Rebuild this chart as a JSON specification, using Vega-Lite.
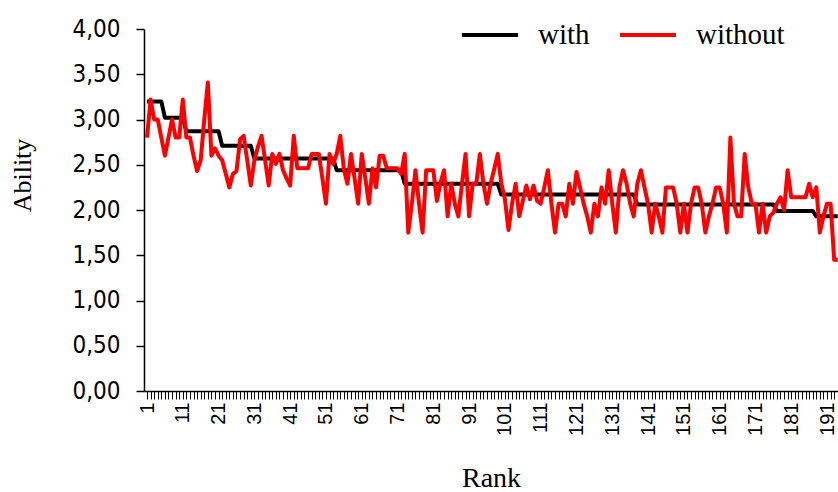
{
"$schema": "https://vega.github.io/schema/vega-lite/v6.json",
"width": 694, "height": 362,
"autosize": {"type": "none"},
"padding": {"left": 144, "top": 29, "right": 0, "bottom": 101},
"background": "white",
"config": {"view": {"stroke": null}, "axisX": {"labelFontSize": 20}},
"data": {"values": [
{"rank":1,"with":3.20,"without":2.80},{"rank":2,"with":3.20,"without":3.22},{"rank":3,"with":3.20,"without":3.00},{"rank":4,"with":3.20,"without":3.00},{"rank":5,"with":3.20,"without":2.80},
{"rank":6,"with":3.02,"without":2.60},{"rank":7,"with":3.02,"without":2.80},{"rank":8,"with":3.02,"without":3.00},{"rank":9,"with":3.02,"without":2.80},{"rank":10,"with":3.02,"without":2.80},
{"rank":11,"with":3.02,"without":3.22},{"rank":12,"with":2.87,"without":2.80},{"rank":13,"with":2.87,"without":2.80},{"rank":14,"with":2.87,"without":2.60},{"rank":15,"with":2.87,"without":2.43},
{"rank":16,"with":2.87,"without":2.55},{"rank":17,"with":2.87,"without":3.00},{"rank":18,"with":2.87,"without":3.41},{"rank":19,"with":2.87,"without":2.60},{"rank":20,"with":2.87,"without":2.68},
{"rank":21,"with":2.87,"without":2.60},{"rank":22,"with":2.71,"without":2.55},{"rank":23,"with":2.71,"without":2.40},{"rank":24,"with":2.71,"without":2.25},{"rank":25,"with":2.71,"without":2.40},
{"rank":26,"with":2.71,"without":2.43},{"rank":27,"with":2.71,"without":2.78},{"rank":28,"with":2.71,"without":2.82},{"rank":29,"with":2.71,"without":2.55},{"rank":30,"with":2.71,"without":2.27},
{"rank":31,"with":2.57,"without":2.55},{"rank":32,"with":2.57,"without":2.70},{"rank":33,"with":2.57,"without":2.82},{"rank":34,"with":2.57,"without":2.55},{"rank":35,"with":2.57,"without":2.27},
{"rank":36,"with":2.57,"without":2.62},{"rank":37,"with":2.57,"without":2.51},{"rank":38,"with":2.57,"without":2.62},{"rank":39,"with":2.57,"without":2.44},{"rank":40,"with":2.57,"without":2.35},
{"rank":41,"with":2.57,"without":2.27},{"rank":42,"with":2.57,"without":2.82},{"rank":43,"with":2.57,"without":2.46},{"rank":44,"with":2.57,"without":2.46},{"rank":45,"with":2.57,"without":2.46},
{"rank":46,"with":2.57,"without":2.46},{"rank":47,"with":2.57,"without":2.62},{"rank":48,"with":2.57,"without":2.62},{"rank":49,"with":2.57,"without":2.62},{"rank":50,"with":2.57,"without":2.35},
{"rank":51,"with":2.57,"without":2.07},{"rank":52,"with":2.57,"without":2.62},{"rank":53,"with":2.57,"without":2.51},{"rank":54,"with":2.44,"without":2.62},{"rank":55,"with":2.44,"without":2.82},
{"rank":56,"with":2.44,"without":2.45},{"rank":57,"with":2.44,"without":2.29},{"rank":58,"with":2.44,"without":2.62},{"rank":59,"with":2.44,"without":2.35},{"rank":60,"with":2.44,"without":2.07},
{"rank":61,"with":2.44,"without":2.62},{"rank":62,"with":2.44,"without":2.35},{"rank":63,"with":2.44,"without":2.07},{"rank":64,"with":2.44,"without":2.46},{"rank":65,"with":2.44,"without":2.25},
{"rank":66,"with":2.44,"without":2.60},{"rank":67,"with":2.44,"without":2.60},{"rank":68,"with":2.44,"without":2.46},{"rank":69,"with":2.44,"without":2.46},{"rank":70,"with":2.44,"without":2.46},
{"rank":71,"with":2.44,"without":2.46},{"rank":72,"with":2.44,"without":2.40},{"rank":73,"with":2.29,"without":2.62},{"rank":74,"with":2.29,"without":1.75},{"rank":75,"with":2.29,"without":2.07},
{"rank":76,"with":2.29,"without":2.44},{"rank":77,"with":2.29,"without":2.07},{"rank":78,"with":2.29,"without":1.75},{"rank":79,"with":2.29,"without":2.44},{"rank":80,"with":2.29,"without":2.44},
{"rank":81,"with":2.29,"without":2.44},{"rank":82,"with":2.29,"without":2.10},{"rank":83,"with":2.29,"without":2.30},{"rank":84,"with":2.29,"without":2.44},{"rank":85,"with":2.29,"without":1.93},
{"rank":86,"with":2.29,"without":2.29},{"rank":87,"with":2.29,"without":2.07},{"rank":88,"with":2.29,"without":1.93},{"rank":89,"with":2.29,"without":2.29},{"rank":90,"with":2.29,"without":2.62},
{"rank":91,"with":2.29,"without":1.93},{"rank":92,"with":2.29,"without":2.29},{"rank":93,"with":2.29,"without":2.29},{"rank":94,"with":2.29,"without":2.62},{"rank":95,"with":2.29,"without":2.29},
{"rank":96,"with":2.29,"without":2.07},{"rank":97,"with":2.29,"without":2.29},{"rank":98,"with":2.29,"without":2.45},{"rank":99,"with":2.29,"without":2.62},{"rank":100,"with":2.17,"without":2.29},
{"rank":101,"with":2.17,"without":2.12},{"rank":102,"with":2.17,"without":1.78},{"rank":103,"with":2.17,"without":2.07},{"rank":104,"with":2.17,"without":2.29},{"rank":105,"with":2.17,"without":1.93},
{"rank":106,"with":2.17,"without":2.10},{"rank":107,"with":2.17,"without":2.27},{"rank":108,"with":2.17,"without":2.12},{"rank":109,"with":2.17,"without":2.27},{"rank":110,"with":2.17,"without":2.10},
{"rank":111,"with":2.17,"without":2.07},{"rank":112,"with":2.17,"without":2.25},{"rank":113,"with":2.17,"without":2.44},{"rank":114,"with":2.17,"without":2.07},{"rank":115,"with":2.17,"without":1.75},
{"rank":116,"with":2.17,"without":2.07},{"rank":117,"with":2.17,"without":2.07},{"rank":118,"with":2.17,"without":1.93},{"rank":119,"with":2.17,"without":2.29},{"rank":120,"with":2.17,"without":2.07},
{"rank":121,"with":2.17,"without":2.42},{"rank":122,"with":2.17,"without":2.25},{"rank":123,"with":2.17,"without":2.07},{"rank":124,"with":2.17,"without":1.93},{"rank":125,"with":2.17,"without":1.75},
{"rank":126,"with":2.17,"without":2.07},{"rank":127,"with":2.17,"without":1.93},{"rank":128,"with":2.17,"without":2.25},{"rank":129,"with":2.17,"without":2.07},{"rank":130,"with":2.17,"without":2.44},
{"rank":131,"with":2.17,"without":2.07},{"rank":132,"with":2.17,"without":1.75},{"rank":133,"with":2.17,"without":2.25},{"rank":134,"with":2.17,"without":2.44},{"rank":135,"with":2.17,"without":2.29},
{"rank":136,"with":2.17,"without":2.07},{"rank":137,"with":2.17,"without":1.93},{"rank":138,"with":2.06,"without":2.29},{"rank":139,"with":2.06,"without":2.44},{"rank":140,"with":2.06,"without":2.25},
{"rank":141,"with":2.06,"without":2.07},{"rank":142,"with":2.06,"without":1.75},{"rank":143,"with":2.06,"without":2.07},{"rank":144,"with":2.06,"without":1.93},{"rank":145,"with":2.06,"without":1.75},
{"rank":146,"with":2.06,"without":2.25},{"rank":147,"with":2.06,"without":2.25},{"rank":148,"with":2.06,"without":2.25},{"rank":149,"with":2.06,"without":2.07},{"rank":150,"with":2.06,"without":1.75},
{"rank":151,"with":2.06,"without":2.07},{"rank":152,"with":2.06,"without":1.75},{"rank":153,"with":2.06,"without":2.07},{"rank":154,"with":2.06,"without":2.25},{"rank":155,"with":2.06,"without":2.25},
{"rank":156,"with":2.06,"without":2.07},{"rank":157,"with":2.06,"without":1.75},{"rank":158,"with":2.06,"without":1.93},{"rank":159,"with":2.06,"without":2.07},{"rank":160,"with":2.06,"without":2.25},
{"rank":161,"with":2.06,"without":2.25},{"rank":162,"with":2.06,"without":2.07},{"rank":163,"with":2.06,"without":1.75},{"rank":164,"with":2.06,"without":2.80},{"rank":165,"with":2.06,"without":2.07},
{"rank":166,"with":2.06,"without":1.93},{"rank":167,"with":2.06,"without":1.93},{"rank":168,"with":2.06,"without":2.62},{"rank":169,"with":2.06,"without":2.25},{"rank":170,"with":2.06,"without":2.07},
{"rank":171,"with":2.06,"without":2.07},{"rank":172,"with":2.06,"without":1.75},{"rank":173,"with":2.06,"without":2.07},{"rank":174,"with":2.06,"without":1.75},{"rank":175,"with":2.06,"without":1.93},
{"rank":176,"with":2.06,"without":1.97},{"rank":177,"with":1.99,"without":2.07},{"rank":178,"with":1.99,"without":2.14},{"rank":179,"with":1.99,"without":2.00},{"rank":180,"with":1.99,"without":2.44},
{"rank":181,"with":1.99,"without":2.14},{"rank":182,"with":1.99,"without":2.14},{"rank":183,"with":1.99,"without":2.14},{"rank":184,"with":1.99,"without":2.14},{"rank":185,"with":1.99,"without":2.14},
{"rank":186,"with":1.99,"without":2.29},{"rank":187,"with":1.99,"without":2.14},{"rank":188,"with":1.93,"without":2.25},{"rank":189,"with":1.93,"without":1.75},{"rank":190,"with":1.93,"without":1.93},
{"rank":191,"with":1.93,"without":2.07},{"rank":192,"with":1.93,"without":2.07},{"rank":193,"with":1.93,"without":1.45},{"rank":194,"with":1.93,"without":1.45}
]},
"transform": [{"fold": ["with", "without"], "as": ["series", "ability"]}],
"mark": {"type": "line", "strokeWidth": 4, "clip": true, "strokeJoin": "round"},
"encoding": {
  "x": {"field": "rank", "type": "quantitative",
    "scale": {"domain": [0.16, 194.07], "nice": false, "zero": false},
    "axis": {"tickCount": 194, "format": "d", "labelExpr": "(datum.value - 1) % 10 == 0 ? datum.label : ''",
      "labelAngle": 270, "labelOverlap": false, "labelFlush": false, "labelFont": "Liberation Sans", "labelFontSize": 20,
      "labelColor": "black", "labelPadding": 3, "tickColor": "black", "tickSize": 8, "tickWidth": 1,
      "domainColor": "black", "domainWidth": 1.5, "grid": false,
      "title": "Rank", "titleFont": "Liberation Serif", "titleFontSize": 28, "titleFontWeight": "normal", "titleColor": "black",
      "titleY": 87, "titleBaseline": "middle"}},
  "y": {"field": "ability", "type": "quantitative",
    "scale": {"domain": [0, 4], "nice": false},
    "axis": {"values": [0, 0.5, 1, 1.5, 2, 2.5, 3, 3.5, 4],
      "labelExpr": "replace(format(datum.value, '.2f'), '.', ',')",
      "labelFont": "Liberation Sans Narrow, Arial Narrow, DejaVu Sans Condensed, sans-serif", "labelFontSize": 24, "labelColor": "black", "labelPadding": 16,
      "tickColor": "black", "tickSize": 8, "tickWidth": 1.5, "domainColor": "black", "domainWidth": 1.5, "grid": false,
      "title": "Ability", "titleFont": "Liberation Serif", "titleFontSize": 26, "titleFontWeight": "normal", "titleColor": "black",
      "titleAngle": 270, "titleX": -122, "titleY": 146, "titleBaseline": "middle", "titleAlign": "center"}},
  "color": {"field": "series", "type": "nominal",
    "scale": {"domain": ["with", "without"], "range": ["#000000", "#ff0000"]},
    "legend": {"orient": "none", "legendX": 316, "legendY": -24, "direction": "horizontal", "title": null,
      "symbolType": "stroke", "symbolSize": 3136, "symbolStrokeWidth": 4,
      "labelFont": "Liberation Serif", "labelFontSize": 29, "labelColor": "black", "labelOffset": 18,
      "columnPadding": 22, "padding": 0}}
}
}
